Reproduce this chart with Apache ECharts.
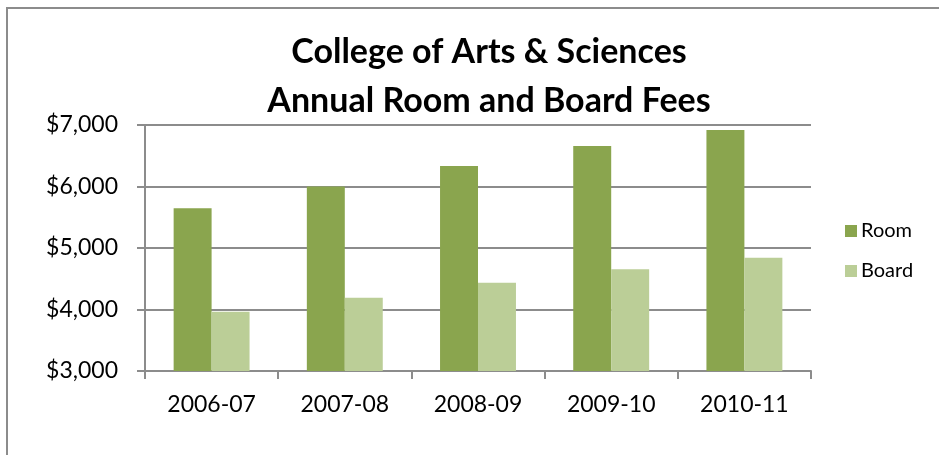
<!DOCTYPE html>
<html>
<head>
<meta charset="utf-8">
<script src="https://cdn.jsdelivr.net/npm/echarts@6/dist/echarts.min.js"></script>
<style>
  html, body { margin: 0; padding: 0; background: #fff; }
  #main { width: 939px; height: 455px; }
</style>
</head>
<body>
<div id="main"></div>
<script>
  // data
  var years = ['2006-07', '2007-08', '2008-09', '2009-10', '2010-11'];
  var roomFees = [5645, 6000, 6335, 6660, 6920];
  var boardFees = [3965, 4190, 4435, 4655, 4840];
  var seriesNames = ['Room', 'Board'];

  var font = 'Lato, "Open Sans", sans-serif';
  var chart = echarts.init(document.getElementById('main'));
  chart.setOption({
    animation: false,
    backgroundColor: '#fff',
    graphic: [{
      type: 'rect',
      shape: { x: 7, y: 8, width: 960, height: 460 },
      style: { fill: 'none', stroke: '#8c8c8c', lineWidth: 2 },
      silent: true
    }],
    title: {
      text: 'College of Arts & Sciences\nAnnual Room and Board Fees',
      left: 484,
      textAlign: 'center',
      top: 23,
      textStyle: {
        fontFamily: font,
        fontWeight: 'bold',
        fontSize: 34,
        lineHeight: 49,
        color: '#000'
      }
    },
    legend: {
      orient: 'vertical',
      left: 845,
      top: 221,
      padding: 0,
      itemWidth: 12,
      itemHeight: 12,
      itemGap: 20,
      icon: 'rect',
      data: seriesNames,
      textStyle: { fontFamily: font, fontSize: 20, color: '#000', padding: [0, 0, 0, -1] }
    },
    grid: { left: 145, right: 128, top: 125, bottom: 84, containLabel: false },
    xAxis: {
      type: 'category',
      data: years,
      axisLine: { lineStyle: { color: '#8c8c8c', width: 2 } },
      axisTick: { show: true, length: 8, lineStyle: { color: '#8c8c8c', width: 2 } },
      axisLabel: { fontFamily: font, fontSize: 23, color: '#000', margin: 22 }
    },
    yAxis: {
      type: 'value',
      min: 3000,
      max: 7000,
      interval: 1000,
      axisLine: { show: true, lineStyle: { color: '#8c8c8c', width: 2 } },
      axisTick: { show: true, length: 8, lineStyle: { color: '#8c8c8c', width: 2 } },
      splitLine: { lineStyle: { color: '#8c8c8c', width: 2 } },
      axisLabel: {
        fontFamily: font, fontSize: 23, color: '#000', margin: 27,
        formatter: function (v) { return '$' + v.toLocaleString('en-US'); }
      }
    },
    series: [
      {
        name: seriesNames[0], type: 'bar', data: roomFees,
        barGap: '0%', barCategoryGap: '43%',
        itemStyle: { color: '#8aa54e' }
      },
      {
        name: seriesNames[1], type: 'bar', data: boardFees,
        itemStyle: { color: '#bbce97' }
      }
    ]
  });
</script>
</body>
</html>
